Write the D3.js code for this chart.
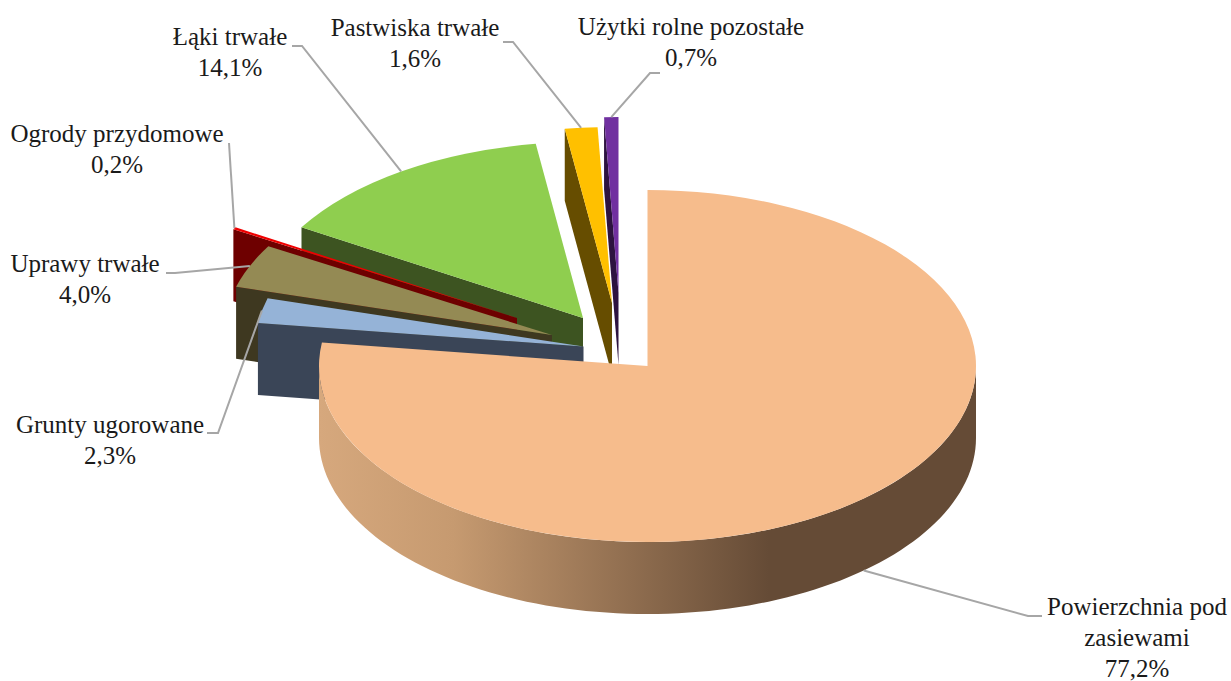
<!DOCTYPE html>
<html>
<head>
<meta charset="utf-8">
<style>
html, body { margin: 0; background: #fff; }
svg { display: block; }
text { font-family: "Liberation Serif", serif; font-size: 25px; fill: #1a1a1a; text-anchor: middle; }
</style>
</head>
<body>
<div id="target"></div>
<script src="https://cdn.jsdelivr.net/npm/d3@7.8.3/dist/d3.min.js"></script>
<script>
// Data, clockwise from 12 o'clock
const categories = ["Powierzchnia pod|zasiewami", "Grunty ugorowane", "Uprawy trwałe", "Ogrody przydomowe", "Łąki trwałe", "Pastwiska trwałe", "Użytki rolne pozostałe"];
const shares = [77.2, 2.3, 4.0, 0.2, 14.1, 1.6, 0.7];

// Colours: top of the slice, and its shaded wall
const topColors = ["#f6bc8c", "#95b3d7", "#948a54", "#f00000", "#8fce4f", "#ffc000", "#7030a0"];
const wallColors = ["#654b36", "#3a4557", "#3e3820", "#6e0000", "#3d5421", "#664d00", "#2d1340"];

// Layout
const width = 1231, height = 681;
const cx = 647.5, cy = 366, rx = 328.5, ry = 176, depth = 72;
// how far each slice was pulled out of the pie (px)
const pullX = [0, -64, -95.5, -130.5, -64.5, -35.5, -29];
const pullY = [0, -19.5, -31, -48, -48, -63, -73];
// label block: centre x, first baseline
const labelX = [1137, 110, 85, 117, 230, 415, 691];
const labelY = [615, 433, 272, 142, 45, 36, 35];
// leader line: where it leaves the label, and the elbow
const leaderFrom = [[1042, 616], [207, 433], [166, 273], [229, 143], [292, 46], [503, 42], [660, 73]];
const leaderElbow = [[1028, 616], [218, 433], [175, 273], null, [302, 46], [513, 42], [650, 73]];

const svg = d3.select("#target").append("svg").attr("width", width).attr("height", height);

const grad = svg.append("defs").append("linearGradient")
    .attr("id", "wallGrad")
    .attr("gradientUnits", "userSpaceOnUse")
    .attr("x1", cx - rx).attr("x2", 769).attr("y1", 0).attr("y2", 0);
grad.append("stop").attr("offset", 0).attr("stop-color", "#d6a87d");
grad.append("stop").attr("offset", 0.3).attr("stop-color", "#c69a70");
grad.append("stop").attr("offset", 1).attr("stop-color", wallColors[0]);

const pie = d3.pie().sort(null).startAngle(0).endAngle(Math.PI * 2);
const slices = pie(shares).map((d, i) => ({
    ...d,
    i,
    ax: cx + pullX[i],
    ay: cy + pullY[i]
}));

const arc = d3.arc().innerRadius(0).outerRadius(rx);
const line = d3.line();

// point on the slice's rim at angle t, z is how far down the wall
const rim = (s, t, z = 0) => [s.ax + rx * Math.sin(t), s.ay - ry * Math.cos(t) + z];

function wallFace(s, t) {
    return line([[s.ax, s.ay], rim(s, t), rim(s, t, depth), [s.ax, s.ay + depth]]) + "Z";
}

function outerWall(s) {
    const a = Math.max(s.startAngle, Math.PI / 2);
    const b = Math.min(s.endAngle, Math.PI * 1.5);
    if (a >= b) return null;
    const ts = d3.range(0, 101).map(k => a + (b - a) * k / 100);
    return line(ts.map(t => rim(s, t)).concat(ts.slice().reverse().map(t => rim(s, t, depth)))) + "Z";
}

// back to front: the big slice goes last, it covers the tips of the others
const order = slices.slice().reverse();

const g = svg.selectAll("g.slice").data(order).join("g").attr("class", "slice");

g.each(function (s) {
    const sel = d3.select(this);
    if (Math.sin(s.startAngle) < -1e-6) {
        sel.append("path").attr("d", wallFace(s, s.startAngle)).attr("fill", wallColors[s.i]);
    }
    const w = outerWall(s);
    if (w) sel.append("path").attr("d", w).attr("fill", "url(#wallGrad)");
    sel.append("path")
        .attr("transform", `translate(${s.ax},${s.ay}) scale(1,${ry / rx})`)
        .attr("d", arc(s))
        .attr("fill", topColors[s.i]);
});

// leader lines run from the label to the middle of the slice's rim
slices.forEach(s => {
    const mid = (s.startAngle + s.endAngle) / 2;
    const end = rim(s, mid, Math.cos(mid) < 0 ? depth : 0);
    const pts = [leaderFrom[s.i], leaderElbow[s.i], end].filter(Boolean);
    svg.append("path")
        .attr("d", line(pts))
        .attr("fill", "none")
        .attr("stroke", "#a6a6a6")
        .attr("stroke-width", 2);
});

// labels
slices.forEach(s => {
    const rows = categories[s.i].split("|").concat(shares[s.i].toFixed(1).replace(".", ",") + "%");
    const t = svg.append("text").attr("x", labelX[s.i]).attr("y", labelY[s.i]);
    rows.forEach((r, k) => {
        t.append("tspan").attr("x", labelX[s.i]).attr("dy", k ? 31 : 0).text(r);
    });
});
</script>
</body>
</html>
